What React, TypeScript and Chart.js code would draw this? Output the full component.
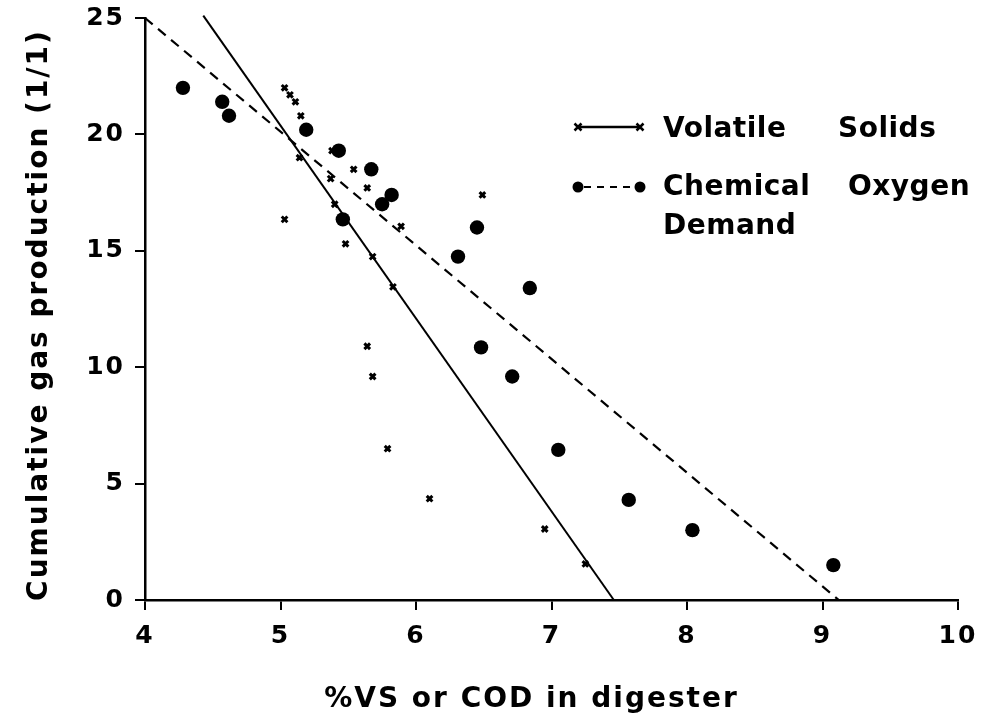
import React, { useEffect, useRef } from "react";
import { Chart, registerables } from "chart.js";

Chart.register(...registerables);

// Volatile Solids samples (% VS in digester, cumulative gas l/l)
const vsX = [5.03, 5.07, 5.11, 5.15, 5.38, 5.14, 5.54, 5.37, 5.64, 5.40, 6.49, 5.03, 5.89, 5.48, 5.68, 5.83, 5.64, 5.68, 5.79, 6.10, 6.95, 7.25];
const vsY = [22.0, 21.7, 21.4, 20.8, 19.3, 19.0, 18.5, 18.1, 17.7, 17.0, 17.4, 16.35, 16.05, 15.3, 14.75, 13.45, 10.9, 9.6, 6.5, 4.35, 3.05, 1.55];

// Chemical Oxygen Demand samples
const codX = [4.28, 4.57, 4.62, 5.19, 5.43, 5.67, 5.82, 5.75, 5.46, 6.45, 6.31, 6.84, 6.48, 6.71, 7.05, 7.57, 8.04, 9.08];
const codY = [22.0, 21.4, 20.8, 20.2, 19.3, 18.5, 17.4, 17.0, 16.35, 16.0, 14.75, 13.4, 10.85, 9.6, 6.45, 4.3, 3.0, 1.5];

// Fitted lines (end points)
const vsFitX = [4.43, 7.46];
const vsFitY = [25.1, 0];
const codFitX = [4.0, 9.12];
const codFitY = [25.0, 0];

const xTicks = [4, 5, 6, 7, 8, 9, 10];
const yTicks = [0, 5, 10, 15, 20, 25];

const xTitle = "%VS or COD in digester";
const yTitle = "Cumulative gas production (1/1)";
const legendVS = ["Volatile", "Solids"];
const legendCOD1 = ["Chemical", "Oxygen"];
const legendCOD2 = ["Demand"];

const FONT = "'DejaVu Sans', Verdana, sans-serif";

const toPts = (xs: number[], ys: number[]) => xs.map((x, i) => ({ x, y: ys[i] }));

const decor = {
  id: "decor",
  beforeDraw(chart: any) {
    chart.ctx.letterSpacing = "2px";
  },
  afterDraw(chart: any) {
    const ctx = chart.ctx as CanvasRenderingContext2D;
    const xs = chart.scales.x;
    const ys = chart.scales.y;
    ctx.save();
    ctx.fillStyle = "#000";
    ctx.strokeStyle = "#000";
    // axis titles
    ctx.font = `bold 28px ${FONT}`;
    (ctx as any).letterSpacing = "2px";
    ctx.textAlign = "center";
    ctx.textBaseline = "middle";
    ctx.fillText(xTitle, (xs.left + xs.right) / 2 - 20, 700);
    ctx.save();
    ctx.translate(40, (ys.top + ys.bottom) / 2 + 6);
    ctx.rotate(-Math.PI / 2);
    ctx.fillText(yTitle, 0, 0);
    ctx.restore();

    // legend
    const lx0 = 578, lx1 = 640;
    const ly1 = 127, ly2 = 187;
    ctx.lineWidth = 2.5;
    ctx.setLineDash([]);
    ctx.beginPath();
    ctx.moveTo(lx0, ly1);
    ctx.lineTo(lx1, ly1);
    ctx.stroke();
    for (const px of [lx0, lx1]) {
      ctx.beginPath();
      ctx.moveTo(px - 3.5, ly1 - 3.5);
      ctx.lineTo(px + 3.5, ly1 + 3.5);
      ctx.moveTo(px + 3.5, ly1 - 3.5);
      ctx.lineTo(px - 3.5, ly1 + 3.5);
      ctx.stroke();
    }
    ctx.lineWidth = 2;
    ctx.setLineDash([7, 6]);
    ctx.beginPath();
    ctx.moveTo(lx0 + 6, ly2);
    ctx.lineTo(lx1 - 6, ly2);
    ctx.stroke();
    ctx.setLineDash([]);
    for (const px of [lx0, lx1]) {
      ctx.beginPath();
      ctx.arc(px, ly2, 5.5, 0, Math.PI * 2);
      ctx.fill();
    }
    ctx.font = `bold 28px ${FONT}`;
    (ctx as any).letterSpacing = "0.5px";
    ctx.textAlign = "left";
    ctx.textBaseline = "middle";
    ctx.fillText(legendVS[0], 663, ly1 + 3);
    ctx.fillText(legendVS[1], 838, ly1 + 3);
    ctx.fillText(legendCOD1[0], 663, ly2 + 1);
    ctx.fillText(legendCOD1[1], 848, ly2 + 1);
    ctx.fillText(legendCOD2[0], 663, ly2 + 40);
    ctx.restore();
  },
};

export default function App() {
  const ref = useRef<HTMLCanvasElement>(null);
  useEffect(() => {
    if (!ref.current) return;
    const chart = new Chart(ref.current, {
      type: "scatter",
      data: {
        datasets: [
          {
            label: "VS fit",
            type: "line",
            data: toPts(vsFitX, vsFitY),
            borderColor: "#000",
            borderWidth: 2,
            pointRadius: 0,
            showLine: true,
            clip: false,
          } as any,
          {
            label: "COD fit",
            type: "line",
            data: toPts(codFitX, codFitY),
            borderColor: "#000",
            borderWidth: 2.2,
            borderDash: [10, 7],
            pointRadius: 0,
            showLine: true,
            clip: false,
          } as any,
          {
            label: "Volatile Solids",
            data: toPts(vsX, vsY),
            pointStyle: "crossRot",
            pointRadius: 4,
            borderColor: "#000",
            borderWidth: 3,
            backgroundColor: "#000",
          },
          {
            label: "Chemical Oxygen Demand",
            data: toPts(codX, codY),
            pointStyle: "circle",
            pointRadius: 7.2,
            borderColor: "#000",
            borderWidth: 0,
            backgroundColor: "#000",
          },
        ],
      },
      options: {
        animation: false,
        responsive: true,
        maintainAspectRatio: false,
        layout: { padding: { left: 0, right: 34, top: 18, bottom: 0 } },
        plugins: { legend: { display: false }, tooltip: { enabled: false } },
        scales: {
          x: {
            type: "linear",
            min: 4,
            max: 10,
            afterFit: (s: any) => { s.height = 124; s.paddingLeft = 0; s.paddingRight = 0; },
            afterBuildTicks: (s: any) => { s.ticks = xTicks.map((v) => ({ value: v })); },
            ticks: {
              color: "#000",
              padding: 11,
              font: { family: FONT, size: 25, weight: "bold" },
            },
            grid: { drawOnChartArea: false, drawTicks: true, tickLength: 10, color: "#000", lineWidth: 2 },
            border: { color: "#000", width: 2.5 },
          },
          y: {
            type: "linear",
            min: 0,
            max: 25,
            afterFit: (s: any) => { s.width = 145; s.paddingTop = 0; s.paddingBottom = 0; },
            afterBuildTicks: (s: any) => { s.ticks = yTicks.map((v) => ({ value: v })); },
            ticks: {
              color: "#000",
              padding: 10,
              font: { family: FONT, size: 25, weight: "bold" },
            },
            grid: { drawOnChartArea: false, drawTicks: true, tickLength: 10, color: "#000", lineWidth: 2 },
            border: { color: "#000", width: 2.5 },
          },
        },
      },
      plugins: [decor],
    });
    return () => chart.destroy();
  }, []);
  return (
    <div style={{ position: "fixed", left: 0, top: 0, width: 992, height: 724, background: "#fff" }}>
      <canvas ref={ref} style={{ width: "100%", height: "100%" }} />
    </div>
  );
}
